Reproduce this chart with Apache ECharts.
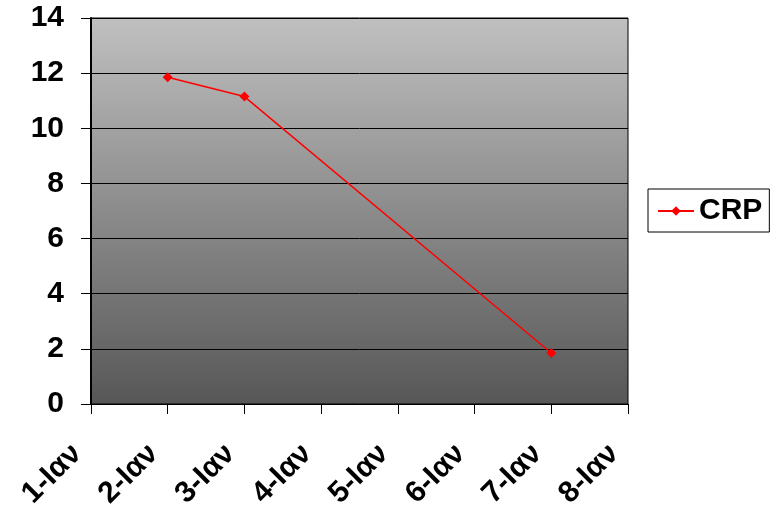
<!DOCTYPE html>
<html>
<head>
<meta charset="utf-8">
<script src="https://cdn.jsdelivr.net/npm/echarts@6/dist/echarts.min.js"></script>
<style>
  html, body { margin: 0; padding: 0; background: #fff; }
  #chart { width: 778px; height: 519px; }
</style>
</head>
<body>
<div id="chart"></div>
<script>
// Dates along the x axis
const categories = ['1-Ιαν', '2-Ιαν', '3-Ιαν', '4-Ιαν', '5-Ιαν', '6-Ιαν', '7-Ιαν', '8-Ιαν'];
// CRP measurements (missing days left empty)
const crpValues = [null, 11.85, 11.15, null, null, null, 1.85, null];
// Value axis ticks
const yTicks = [0, 2, 4, 6, 8, 10, 12, 14];

const FONT = '"Liberation Sans", Arial, sans-serif';

const chart = echarts.init(document.getElementById('chart'), null, { renderer: 'canvas' });
chart.setOption({
  animation: false,
  backgroundColor: '#ffffff',
  grid: {
    left: 91, right: 150, top: 18, bottom: 115,
    show: true,
    borderColor: '#000', borderWidth: 1,
    backgroundColor: new echarts.graphic.LinearGradient(0, 0, 0, 1, [
      { offset: 0, color: '#c0c0c0' },
      { offset: 1, color: '#575757' }
    ])
  },
  legend: {
    data: ['CRP'],
    orient: 'vertical',
    left: 648, top: 189,
    backgroundColor: '#fff',
    borderColor: '#000', borderWidth: 1, borderRadius: 0,
    padding: [7, 7, 6, 9],
    itemWidth: 36, itemHeight: 12, itemGap: 0,
    textStyle: { fontFamily: FONT, fontWeight: 'bold', fontSize: 30, color: '#000', padding: [2, 0, 0, 0] }
  },
  xAxis: {
    type: 'category',
    data: categories,
    boundaryGap: false,
    axisLine: { lineStyle: { color: '#000', width: 1 } },
    axisTick: { show: true, length: 10, lineStyle: { color: '#000' } },
    splitLine: { show: false },
    axisLabel: {
      interval: 0, rotate: 45, margin: 31,
      fontFamily: FONT, fontWeight: 'bold', fontSize: 30, color: '#000',
      padding: [0, 20, 0, 0]
    }
  },
  yAxis: {
    type: 'value',
    min: yTicks[0], max: yTicks[yTicks.length - 1], interval: yTicks[1] - yTicks[0],
    axisLine: { show: true, lineStyle: { color: '#000', width: 2 } },
    axisTick: { show: true, length: 10, lineStyle: { color: '#000' } },
    splitLine: { show: true, lineStyle: { color: '#000', width: 1 } },
    axisLabel: {
      margin: 27,
      fontFamily: FONT, fontWeight: 'bold', fontSize: 30, color: '#000'
    }
  },
  series: [{
    name: 'CRP',
    type: 'line',
    data: crpValues,
    connectNulls: true,
    symbol: 'diamond',
    symbolSize: 10,
    showAllSymbol: true,
    lineStyle: { color: '#ff0000', width: 1.5 },
    itemStyle: { color: '#ff0000' }
  }]
});
</script>
</body>
</html>
